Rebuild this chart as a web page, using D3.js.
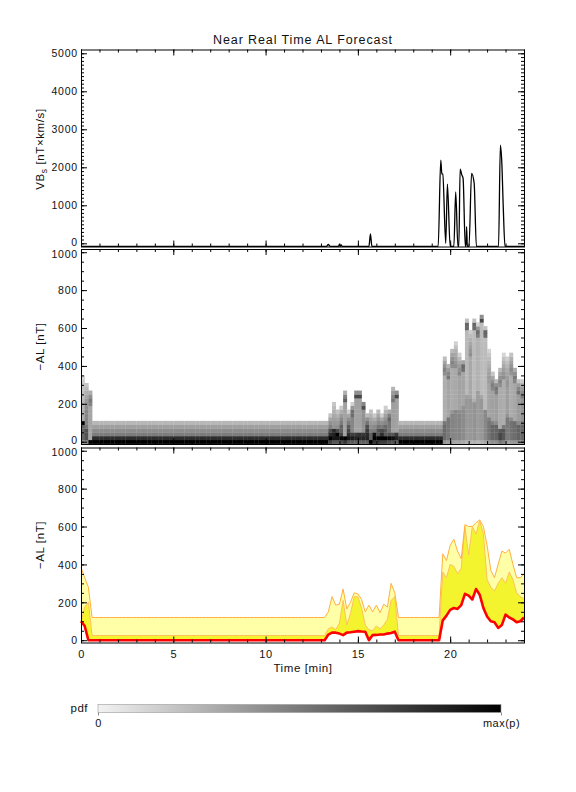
<!DOCTYPE html>
<html>
<head>
<meta charset="utf-8">
<script src="https://cdn.jsdelivr.net/npm/d3@7"></script>
<style>
body { margin: 0; background: #fff; }
svg { display: block; font-family: "Liberation Sans", Arial, sans-serif; }
text { fill: #111; }
</style>
</head>
<body>
<div id="chart"></div>
<script>
var width = 576
var height = 792

// VB_s solar wind driver, minutes / nT x km/s (quiet level sits on the lower axis)
var vbsTime = [0, 13.3, 13.4, 13.5, 13.95, 14.0, 14.05, 14.1, 14.15, 15.6, 15.68, 15.76,
	19.35, 19.49, 19.55, 19.6, 19.76, 19.85, 20.0, 20.2, 20.3, 20.42, 20.47, 20.54, 20.63, 20.7,
	20.82, 20.86, 20.89, 20.93, 21.02, 21.16, 21.3, 21.42, 22.62, 22.72, 22.8, 22.88, 22.97, 24];
var vbsValue = [-80, -80, -30, -80, -80, -30, -80, -45, -80, -80, 250, -80,
	-80, 2190, 1830, 1820, 0, 1560, -80, -80, 1350, -80, -80, 1950, 1800, 1710,
	-80, -80, 440, -80, -80, 1840, 1580, -80, -80, 2580, 2100, 900, -80, -80];

// AL forecast quantiles, one value every 0.2 min from 0 to 24
var alMedian = [100, 75, 0,
	0, 0, 0, 0, 0, 0, 0, 0, 0, 0, 0, 0, 0, 0, 0, 0,
	0, 0, 0, 0, 0, 0, 0, 0, 0, 0, 0, 0, 0, 0, 0, 0,
	0, 0, 0, 0, 0, 0, 0, 0, 0, 0, 0, 0, 0, 0, 0, 0,
	0, 0, 0, 0, 0, 0, 0, 0, 0, 0, 0, 0, 0, 0, 0, 0,
	30, 40, 40, 35, 27, 40, 42, 45, 48, 46, 45, 0, 27, 28, 30, 30, 35, 38, 45, 0,
	0, 0, 0, 0, 0, 0, 0, 0, 0, 0,
	0, 105, 130, 160, 170, 165, 185, 245, 235, 215, 270, 240, 170, 125, 100, 95, 65, 80, 135, 120,
	110, 95, 100, 120];
var alQ75 = [100, 175, 200,
	25, 25, 25, 25, 25, 25, 25, 25, 25, 25, 25, 25, 25, 25, 25, 25,
	25, 25, 25, 25, 25, 25, 25, 25, 25, 25, 25, 25, 25, 25, 25, 25,
	25, 25, 25, 25, 25, 25, 25, 25, 25, 25, 25, 25, 25, 25, 25, 25,
	25, 25, 25, 25, 25, 25, 25, 25, 25, 25, 25, 25, 25, 25, 25, 25,
	60, 70, 55, 90, 210, 80, 140, 230, 230, 170, 80, 55, 50, 75, 60, 80, 110, 210, 230, 25,
	25, 25, 25, 25, 25, 25, 25, 25, 25, 25,
	25, 360, 330, 400, 390, 350, 380, 600, 450, 600, 560, 630, 560, 320, 280, 260, 300, 330, 300, 360,
	320, 250, 230, 220];
var alQ95 = [385, 330, 280,
	120, 120, 120, 120, 120, 120, 120, 120, 120, 120, 120, 120, 120, 120, 120, 120,
	120, 120, 120, 120, 120, 120, 120, 120, 120, 120, 120, 120, 120, 120, 120, 120,
	120, 120, 120, 120, 120, 120, 120, 120, 120, 120, 120, 120, 120, 120, 120, 120,
	120, 120, 120, 120, 120, 120, 120, 120, 120, 120, 120, 120, 120, 120, 120, 120,
	150, 230, 185, 190, 270, 165, 200, 250, 245, 215, 150, 185, 150, 185, 145, 190, 175, 300, 250, 120,
	120, 120, 120, 120, 120, 120, 120, 120, 120, 120,
	120, 456, 420, 500, 533, 470, 430, 610, 600, 600, 620, 635, 600, 500, 370, 330, 400, 470, 460, 480,
	400, 330, 330, 350];
var alTime = d3.range(alMedian.length).map((i) => i * 0.2);

var timeMajor = [0, 5, 10, 15, 20];
var timeMinor = d3.range(0, 25, 1);
var vbsMajor = [0, 1000, 2000, 3000, 4000, 5000];
var vbsMinor = d3.range(0, 5001, 100);
var alMajor = [0, 200, 400, 600, 800, 1000];
var alMinor = d3.range(0, 1001, 50);

var svg = d3.select("#chart")
	.append("svg")
	.attr("width", width)
	.attr("height", height);

var x = d3.scaleLinear().domain([0, 24]).range([81, 524]);
var yVbs = d3.scaleLinear().domain([-84, 5100]).range([246.5, 49.5]);
var yPdf = d3.scaleLinear().domain([-12, 1017]).range([444, 249]);
var yAl = d3.scaleLinear().domain([-12, 1017]).range([642.5, 447.5]);

// ---- top panel: VBs line
svg.append("path")
	.datum(vbsTime.map((t, i) => [t, vbsValue[i]]))
	.attr("fill", "none")
	.attr("stroke", "#000")
	.attr("stroke-width", 1.3)
	.attr("d", d3.line().x((d) => x(d[0])).y((d) => yVbs(d[1])).curve(d3.curveMonotoneX));

// ---- middle panel: pdf of AL built from the quantiles
var binSize = 20, nBins = 51;
function cdf(s, v) {
	var u = Math.min(1, Math.max(0, (v - s.a) / (s.b - s.a)));
	return s.tri ? 1 - (1 - u) * (1 - u) : u;
}
function columnPdf(i) {
	var segs = [
		{ a: 0, b: Math.max(alMedian[i], 1), m: 0.5 },
		{ a: alMedian[i], b: Math.max(alQ75[i], alMedian[i] + 1), m: 0.3 },
		{ a: alQ75[i], b: Math.max(alQ95[i], alQ75[i] + 40), m: 0.2, tri: true }
	];
	return d3.range(nBins).map((j) => {
		var lo = j * binSize - binSize / 2, hi = lo + binSize;
		return d3.sum(segs, (s) => s.m * (cdf(s, hi) - cdf(s, lo)));
	});
}
var cells = [];
for (var i = 0; i < alTime.length - 1; i++) {
	columnPdf(i).forEach((p, j) => { if (p > 0.004) cells.push({ i: i, j: j, p: p }); });
}
var dark = d3.scalePow().exponent(0.5).domain([0, 0.3]).range([0, 1]).clamp(true);
var grey = d3.interpolateRgb("#f2f2f2", "#000000");

svg.append("g")
	.selectAll("rect")
	.data(cells)
	.enter()
	.append("rect")
	.attr("x", (d) => x(alTime[d.i]))
	.attr("width", (d) => x(alTime[d.i + 1]) - x(alTime[d.i]) + 0.3)
	.attr("y", (d) => Math.max(249, yPdf(d.j * binSize + binSize / 2)))
	.attr("height", (d) => Math.min(444, yPdf(d.j * binSize - binSize / 2)) - Math.max(249, yPdf(d.j * binSize + binSize / 2)) + 0.3)
	.attr("fill", (d) => grey(dark(d.p)));

// ---- bottom panel: quantile bands
var alPts = alTime.map((t, i) => ({ t: t, m: alMedian[i], q75: alQ75[i], q95: alQ95[i] }));
svg.append("path")
	.datum(alPts)
	.attr("fill", "#ffffa8")
	.attr("d", d3.area().x((d) => x(d.t)).y0((d) => yAl(d.m)).y1((d) => yAl(d.q95)));
svg.append("path")
	.datum(alPts)
	.attr("fill", "#f4f42e")
	.attr("d", d3.area().x((d) => x(d.t)).y0((d) => yAl(d.m)).y1((d) => yAl(d.q75)));
svg.append("path")
	.datum(alPts)
	.attr("fill", "none")
	.attr("stroke", "#ffc060")
	.attr("stroke-width", 1)
	.attr("d", d3.line().x((d) => x(d.t)).y((d) => yAl(d.q75)));
svg.append("path")
	.datum(alPts)
	.attr("fill", "none")
	.attr("stroke", "#ffb040")
	.attr("stroke-width", 1)
	.attr("d", d3.line().x((d) => x(d.t)).y((d) => yAl(d.q95)));
svg.append("path")
	.datum(alPts)
	.attr("fill", "none")
	.attr("stroke", "#ff0000")
	.attr("stroke-width", 2.6)
	.attr("stroke-linejoin", "round")
	.attr("d", d3.line().x((d) => x(d.t)).y((d) => yAl(d.m)));

// ---- frames and axes
function drawFrame(y, major, minor, showTime, isTop) {
	var g = svg.append("g");
	var y0 = y.range()[0], y1 = y.range()[1];
	var add = (axis, tx, ty) => {
		var a = g.append("g").attr("transform", "translate(" + tx + "," + ty + ")").call(axis);
		a.select(".domain").remove();
		a.selectAll("line").attr("stroke", "#000");
		return a;
	};
	add(d3.axisBottom(x).tickValues(timeMinor).tickSize(-3).tickFormat(""), 0, y0);
	add(d3.axisTop(x).tickValues(timeMinor).tickSize(-3).tickFormat(""), 0, y1);
	add(d3.axisTop(x).tickValues(timeMajor).tickSize(-6).tickFormat(""), 0, y1);
	var xb = add(d3.axisBottom(x).tickValues(timeMajor).tickSize(-6).tickPadding(8)
		.tickFormat(showTime ? d3.format("d") : ""), 0, y0);
	xb.selectAll("text").style("font-size", "11px").style("letter-spacing", "0.6px").attr("fill", "#111");

	add(d3.axisLeft(y).tickValues(minor).tickSize(-3).tickFormat(""), 81, 0);
	add(d3.axisRight(y).tickValues(minor).tickSize(-3).tickFormat(""), 524, 0);
	add(d3.axisRight(y).tickValues(major).tickSize(-6).tickFormat(""), 524, 0);
	var yl = add(d3.axisLeft(y).tickValues(major).tickSize(-6).tickPadding(3).tickFormat(d3.format("d")), 81, 0);
	// labels at the panel joins are pulled slightly apart so they do not collide
	yl.selectAll("text")
		.attr("dy", (d, k) => (k === 0 && !showTime) ? "0.2em" : (k === major.length - 1 && !isTop) ? "0.5em" : "0.35em")
		.style("font-size", "10.5px").style("letter-spacing", "0.8px").attr("fill", "#111");

	g.append("rect")
		.attr("x", 81.5).attr("y", y1 + 0.5)
		.attr("width", 443).attr("height", y0 - y1)
		.attr("fill", "none").attr("stroke", "#000").attr("stroke-width", 1);
}
drawFrame(yVbs, vbsMajor, vbsMinor, false, true);
drawFrame(yPdf, alMajor, alMinor, false, false);
drawFrame(yAl, alMajor, alMinor, true, false);

// ---- titles
svg.append("text")
	.attr("x", 303).attr("y", 44)
	.attr("text-anchor", "middle")
	.style("font-size", "12.5px").style("letter-spacing", "0.9px")
	.text("Near Real Time AL Forecast");

var vbLabel = svg.append("text")
	.attr("transform", "translate(44,149) rotate(-90)")
	.attr("text-anchor", "middle")
	.style("font-size", "11.5px").style("letter-spacing", "0.6px");
vbLabel.append("tspan").text("VB");
vbLabel.append("tspan").attr("dy", 3).style("font-size", "8.5px").text("s");
vbLabel.append("tspan").attr("dy", -3).text(" [nT\u00d7km/s]");

[yPdf, yAl].forEach((y) => {
	svg.append("text")
		.attr("transform", "translate(44," + ((y.range()[0] + y.range()[1]) / 2) + ") rotate(-90)")
		.attr("text-anchor", "middle")
		.style("font-size", "11.5px").style("letter-spacing", "0.6px")
		.text("\u2212AL [nT]");
});

svg.append("text")
	.attr("x", 303).attr("y", 672)
	.attr("text-anchor", "middle")
	.style("font-size", "11.5px").style("letter-spacing", "0.6px")
	.text("Time [min]");

// ---- colour bar
var cbar = d3.scaleLinear().domain([0, 1]).range([98, 501]);
var grad = svg.append("defs").append("linearGradient").attr("id", "pdfgrad");
d3.range(0, 1.01, 0.1).forEach((s) => {
	grad.append("stop").attr("offset", s).attr("stop-color", grey(s));
});
svg.append("rect")
	.attr("x", cbar(0)).attr("y", 704.5)
	.attr("width", cbar(1) - cbar(0)).attr("height", 8)
	.attr("fill", "url(#pdfgrad)")
	.attr("stroke", "#999").attr("stroke-width", 0.6);
var cb = svg.append("g").attr("transform", "translate(0,712.5)")
	.call(d3.axisBottom(cbar).tickValues([0, 1]).tickSize(3).tickPadding(4)
		.tickFormat((d) => d ? "max(p)" : "0"));
cb.select(".domain").remove();
cb.selectAll("line").attr("stroke", "#888");
cb.selectAll("text").style("font-size", "11px").style("letter-spacing", "0.5px").attr("fill", "#111");
svg.append("text")
	.attr("x", 88).attr("y", 712)
	.attr("text-anchor", "end")
	.style("font-size", "11.5px").style("letter-spacing", "0.5px")
	.text("pdf");
</script>
</body>
</html>
